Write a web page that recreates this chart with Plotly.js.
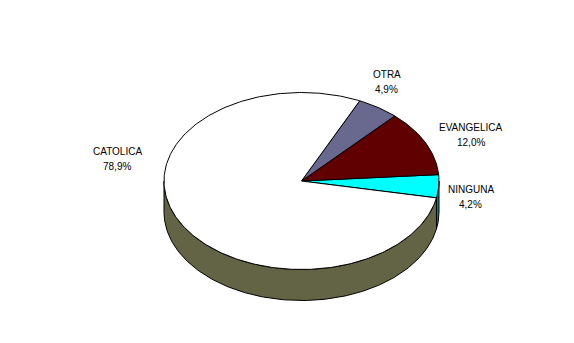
<!DOCTYPE html>
<html>
<head>
<meta charset="utf-8">
<script src="https://cdn.plot.ly/plotly-3.0.1.min.js"></script>
<style>html,body{margin:0;padding:0;background:#fff;}#chart{width:574px;height:343px;}</style>
</head>
<body>
<div id="chart"></div>
<script>
// ---- data ----
const categories = ["NINGUNA", "EVANGELICA", "OTRA", "CATOLICA"];
const values = [4.2, 12.0, 4.9, 78.9];

// ---- styling / geometry (not data) ----
const topColors  = ["#00FFFF", "#600000", "#69698F", "#FFFFFF"];
const sideColors = ["#008080", "#300000", "#343448", "#636345"];
const startAngle = -11;             // degrees, counter-clockwise order
const CX = 301.5, CY = 181, RA = 137.5, RB = 88.5, DEPTH = 31;
const labelPos = [ [470.5, 189], [470.5, 127], [386.5, 74], [117, 151] ];
const lineGap = 15;

function pt(tDeg, dy) {
  const t = tDeg * Math.PI / 180;
  return [CX + RA * Math.cos(t), CY - RB * Math.sin(t) + (dy || 0)];
}

const total = values.reduce((a, b) => a + b, 0);
const sideTraces = [], topTraces = [], annotations = [];
let ang = startAngle;
values.forEach((v, i) => {
  const t0 = ang, t1 = ang + v / total * 360;
  ang = t1;
  // top face
  const xs = [CX], ys = [CY];
  const n = Math.max(4, Math.ceil(t1 - t0));
  for (let k = 0; k <= n; k++) {
    const p = pt(t0 + (t1 - t0) * k / n);
    xs.push(p[0]); ys.push(p[1]);
  }
  xs.push(CX); ys.push(CY);
  topTraces.push({type: "scatter", mode: "lines", x: xs, y: ys, fill: "toself",
    fillcolor: topColors[i], line: {color: "#000", width: 1}, hoverinfo: "skip"});
  // visible front side: angles in [180, 360] (mod 360)
  [-360, 0, 360].forEach(off => {
    const a0 = Math.max(t0 + off, 180), a1 = Math.min(t1 + off, 360);
    if (a1 > a0) {
      const sx = [], sy = [];
      const m = Math.max(2, Math.ceil(a1 - a0));
      for (let k = 0; k <= m; k++) { const p = pt(a0 + (a1 - a0) * k / m); sx.push(p[0]); sy.push(p[1]); }
      for (let k = m; k >= 0; k--) { const p = pt(a0 + (a1 - a0) * k / m, DEPTH); sx.push(p[0]); sy.push(p[1]); }
      sx.push(sx[0]); sy.push(sy[0]);
      sideTraces.push({type: "scatter", mode: "lines", x: sx, y: sy, fill: "toself",
        fillcolor: sideColors[i], line: {color: "#000", width: 1}, hoverinfo: "skip"});
    }
  });
  const pct = v.toFixed(1).replace(".", ",") + "%";
  const font = {family: "Liberation Sans, Arial, sans-serif", size: 10, color: "#000"};
  annotations.push({x: labelPos[i][0], y: labelPos[i][1], xref: "x", yref: "y", text: categories[i],
    showarrow: false, font: font, xanchor: "center", yanchor: "middle"});
  annotations.push({x: labelPos[i][0], y: labelPos[i][1] + lineGap, xref: "x", yref: "y", text: pct,
    showarrow: false, font: font, xanchor: "center", yanchor: "middle"});
});

const layout = {
  width: 574, height: 343,
  margin: {l: 0, r: 0, t: 0, b: 0},
  paper_bgcolor: "#fff", plot_bgcolor: "#fff",
  showlegend: false,
  xaxis: {range: [0, 574], visible: false, fixedrange: true},
  yaxis: {range: [343, 0], visible: false, fixedrange: true},
  annotations: annotations
};
Plotly.newPlot("chart", sideTraces.concat(topTraces), layout, {staticPlot: true, displayModeBar: false});
</script>
</body>
</html>
